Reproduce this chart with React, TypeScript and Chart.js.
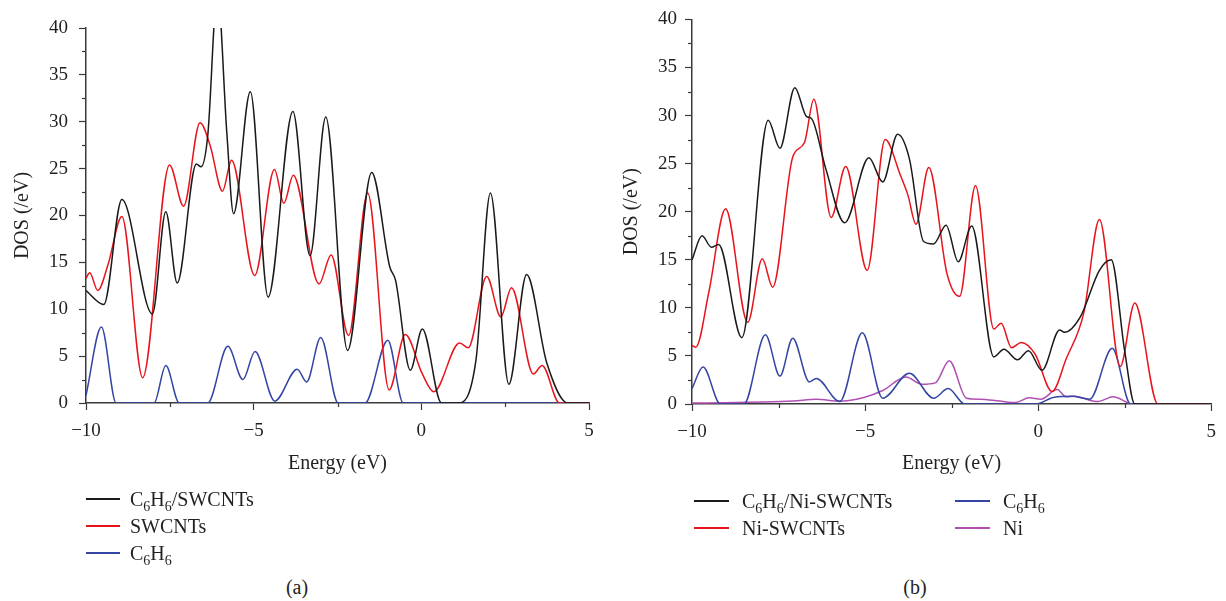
import React, { useEffect, useRef } from 'react';
import { Chart, registerables } from 'chart.js';

Chart.register(...registerables);

const FONT = '"Liberation Serif", "Times New Roman", serif';
const TEXT = '#231f20';
const AXIS = '#3a3a3a';
const BLACK = '#1a1a1a';
const RED = '#e8141c';
const BLUE = '#3446a3';
const MAGENTA = '#b24fb2';

// ---------- (a) C6H6 on SWCNTs ----------
const aTotE = [-10, -9.47, -8.93, -8.02, -7.62, -7.28, -6.71, -6.57, -6.37, -6.08, -5.8, -5.6, -5.1, -4.57, -3.83, -3.32, -2.85, -2.2, -1.48, -0.94, -0.77, -0.33, 0.03, 0.6, 1.12, 1.63, 2.06, 2.61, 3.14, 3.74, 4.37, 5];
const aTotV = [12.0, 10.5, 21.7, 9.5, 20.4, 12.8, 25.5, 25.2, 28.5, 44, 28.8, 20.2, 33.2, 11.3, 31.1, 15.7, 30.5, 5.6, 24.6, 14.5, 13.1, 3.5, 7.9, 0, 0, 4.6, 22.4, 2.0, 13.7, 4.3, 0, 0];

const aSwE = [-10, -9.89, -9.65, -9.34, -8.93, -8.31, -7.51, -7.09, -6.6, -6.3, -5.93, -5.66, -4.97, -4.38, -4.1, -3.82, -3.05, -2.69, -2.17, -1.6, -0.96, -0.48, 0.03, 0.37, 1.14, 1.4, 1.95, 2.37, 2.69, 3.34, 3.6, 4.12, 5];
const aSwV = [13.3, 13.9, 12.0, 14.8, 19.9, 2.7, 25.4, 21.0, 29.9, 27.5, 22.6, 25.9, 13.6, 24.9, 21.3, 24.3, 12.7, 15.8, 7.2, 22.4, 1.4, 7.3, 3.1, 1.2, 6.4, 5.9, 13.5, 9.2, 12.3, 3.1, 4.0, 0, 0];

const aBzE = [-10, -9.54, -9.1, -7.97, -7.62, -7.22, -6.37, -5.77, -5.32, -4.96, -4.37, -3.7, -3.42, -3.0, -2.48, -1.68, -1.0, -0.54, 5];
const aBzV = [0.8, 8.1, 0, 0, 4.0, 0, 0, 6.05, 2.5, 5.5, 0.2, 3.6, 2.25, 7.0, 0, 0, 6.7, 0, 0];

// ---------- (b) C6H6 on Ni-SWCNTs ----------
const bTotE = [-10, -9.71, -9.44, -9.23, -8.56, -7.8, -7.46, -7.03, -6.69, -6.55, -6.13, -5.59, -4.89, -4.49, -4.06, -3.72, -3.31, -3.02, -2.66, -2.31, -1.92, -1.28, -0.99, -0.6, -0.28, 0.11, 0.62, 0.76, 1.21, 1.77, 2.11, 2.5, 2.79, 5];
const bTotV = [15.0, 17.5, 16.3, 16.6, 6.9, 29.5, 26.6, 32.9, 29.9, 29.7, 24.4, 18.85, 25.6, 23.1, 28.05, 25.5, 16.9, 16.65, 18.6, 14.8, 18.5, 4.9, 5.7, 4.6, 5.55, 3.5, 7.7, 7.45, 9.0, 13.9, 15.0, 5.5, 0, 0];

const bNiE = [-10, -9.89, -9.51, -9.03, -8.39, -7.97, -7.67, -7.09, -6.75, -6.48, -5.98, -5.56, -4.94, -4.42, -3.98, -3.76, -3.53, -3.16, -2.63, -2.27, -1.81, -1.28, -1.07, -0.77, -0.49, -0.09, 0.4, 0.81, 1.32, 1.77, 2.37, 2.79, 3.46, 5];
const bNiV = [6.1, 5.9, 11.7, 20.3, 8.5, 15.1, 12.15, 25.7, 27.2, 31.7, 19.4, 24.7, 13.9, 27.5, 23.8, 21.7, 18.7, 24.6, 13.5, 11.2, 22.7, 7.8, 8.4, 5.85, 6.4, 5.2, 1.3, 4.7, 9.5, 19.2, 3.9, 10.5, 0, 0];

const bBzE = [-10, -9.68, -9.18, -8.5, -7.88, -7.46, -7.09, -6.61, -6.41, -5.73, -5.08, -4.49, -3.72, -3.02, -2.6, -2.12, -0.09, 0.47, 0.98, 1.49, 2.14, 2.67, 5];
const bBzV = [1.6, 3.85, 0, 0, 7.2, 2.9, 6.85, 2.3, 2.65, 0.25, 7.4, 0.6, 3.2, 0.6, 1.6, 0, 0, 0.7, 0.8, 0.5, 5.8, 0, 0];

const bMetE = [-10, -7.09, -6.41, -5.73, -5.06, -4.49, -3.82, -3.36, -2.97, -2.57, -2.07, -1.67, -1.11, -0.65, -0.26, 0.08, 0.55, 0.81, 1.04, 1.72, 2.17, 2.73, 5];
const bMetV = [0.1, 0.3, 0.5, 0.3, 0.65, 1.4, 2.8, 2.05, 2.2, 4.5, 0.6, 0.5, 0.3, 0.15, 0.65, 0.5, 1.5, 0.75, 0.8, 0.25, 0.75, 0, 0];

const xRange = [-10, 5];
const yRange = [0, 40];
const xTitle = 'Energy (eV)';
const yTitle = 'DOS (/eV)';

const pts = (e: number[], v: number[]) => e.map((x, i) => ({ x, y: v[i] }));
const fmt = (v: number) => (v < 0 ? '\u2212' + Math.abs(v) : String(v));
const isMajor = (v: number) => Math.abs(v % 5) < 1e-6;

const minorTicks = {
  id: 'minorTicks',
  afterDraw(chart: any) {
    const ctx = chart.ctx;
    const xs = chart.scales.x;
    const ys = chart.scales.y;
    ctx.save();
    ctx.strokeStyle = AXIS;
    ctx.lineWidth = 1.2;
    xs.ticks.forEach((t: any) => {
      if (!isMajor(t.value)) {
        const px = Math.round(xs.getPixelForValue(t.value)) + 0.5;
        ctx.beginPath();
        ctx.moveTo(px, xs.top);
        ctx.lineTo(px, xs.top + 4);
        ctx.stroke();
      }
    });
    ys.ticks.forEach((t: any) => {
      if (!isMajor(t.value)) {
        const py = Math.round(ys.getPixelForValue(t.value)) + 0.5;
        ctx.beginPath();
        ctx.moveTo(ys.right, py);
        ctx.lineTo(ys.right - 4, py);
        ctx.stroke();
      }
    });
    ctx.restore();
  },
};

type Cfg = {
  yWidth: number;
  xHeight: number;
  padTop: number;
  padRight: number;
  yTitlePad: number;
  yTickPad: number;
};

function lineDs(label: string, e: number[], v: number[], color: string) {
  return {
    label,
    data: pts(e, v),
    borderColor: color,
    backgroundColor: color,
    borderWidth: 1.5,
    pointRadius: 0,
    cubicInterpolationMode: 'monotone' as const,
    fill: false,
  };
}

function makeConfig(datasets: any[], c: Cfg): any {
  return {
    type: 'line',
    data: { datasets },
    options: {
      animation: false,
      responsive: false,
      maintainAspectRatio: false,
      devicePixelRatio: 1,
      parsing: false,
      layout: { padding: { top: c.padTop, right: c.padRight, left: 0, bottom: 0 } },
      plugins: { legend: { display: false }, tooltip: { enabled: false } },
      scales: {
        x: {
          type: 'linear',
          min: xRange[0],
          max: xRange[1],
          ticks: {
            stepSize: 2.5,
            autoSkip: false,
            maxRotation: 0,
            padding: 10,
            color: TEXT,
            font: { family: FONT, size: 19 },
            callback: (v: number) => (isMajor(v) ? fmt(v) : ''),
          },
          grid: {
            display: true,
            drawOnChartArea: false,
            drawTicks: true,
            tickLength: 7,
            tickWidth: 1.2,
            tickColor: (ctx: any) => (ctx.tick && isMajor(ctx.tick.value) ? AXIS : 'rgba(0,0,0,0)'),
          },
          border: { display: true, color: AXIS, width: 1.5 },
          title: {
            display: true,
            text: xTitle,
            color: TEXT,
            font: { family: FONT, size: 20 },
            padding: { top: 0, bottom: 14 },
          },
          afterFit: (s: any) => {
            s.height = c.xHeight;
          },
        },
        y: {
          type: 'linear',
          min: yRange[0],
          max: yRange[1],
          ticks: {
            stepSize: 2.5,
            autoSkip: false,
            padding: c.yTickPad,
            color: TEXT,
            font: { family: FONT, size: 19 },
            callback: (v: number) => (isMajor(v) ? fmt(v) : ''),
          },
          grid: {
            display: true,
            drawOnChartArea: false,
            drawTicks: true,
            tickLength: 7,
            tickWidth: 1.2,
            tickColor: (ctx: any) => (ctx.tick && isMajor(ctx.tick.value) ? AXIS : 'rgba(0,0,0,0)'),
          },
          border: { display: true, color: AXIS, width: 1.5 },
          title: {
            display: true,
            text: yTitle,
            color: TEXT,
            font: { family: FONT, size: 20 },
            padding: { top: c.yTitlePad, bottom: 0 },
          },
          afterFit: (s: any) => {
            s.width = c.yWidth;
          },
        },
      },
    },
    plugins: [minorTicks],
  };
}

function ChartCanvas({ left, width, height, config }: { left: number; width: number; height: number; config: () => any }) {
  const ref = useRef<HTMLCanvasElement | null>(null);
  useEffect(() => {
    if (!ref.current) return;
    const chart = new Chart(ref.current, config());
    return () => chart.destroy();
  }, []);
  return (
    <canvas
      ref={ref}
      width={width}
      height={height}
      style={{ position: 'absolute', left, top: 0, width, height }}
    />
  );
}

const Sub = ({ children }: { children: React.ReactNode }) => (
  <span style={{ fontSize: 14, position: 'relative', top: 5 }}>{children}</span>
);

function LegendRow({ x1, x2, tx, cy, color, children }: { x1: number; x2: number; tx: number; cy: number; color: string; children: React.ReactNode }) {
  return (
    <>
      <div style={{ position: 'absolute', left: x1, top: cy - 1, width: x2 - x1, height: 0, borderTop: `2px solid ${color}` }} />
      <div style={{ position: 'absolute', left: tx, top: cy - 12, lineHeight: '24px', fontSize: 20, whiteSpace: 'nowrap' }}>{children}</div>
    </>
  );
}

const Caption = ({ cx, cy, text }: { cx: number; cy: number; text: string }) => (
  <div style={{ position: 'absolute', left: cx, top: cy - 12, transform: 'translateX(-50%)', lineHeight: '24px', fontSize: 20 }}>{text}</div>
);

export default function App() {
  const cfgA = () =>
    makeConfig(
      [
        lineDs('C6H6/SWCNTs', aTotE, aTotV, BLACK),
        lineDs('SWCNTs', aSwE, aSwV, RED),
        lineDs('C6H6', aBzE, aBzV, BLUE),
      ],
      { yWidth: 86, xHeight: 87, padTop: 28, padRight: 21, yTitlePad: 11, yTickPad: 11 }
    );
  const cfgB = () =>
    makeConfig(
      [
        lineDs('C6H6/Ni-SWCNTs', bTotE, bTotV, BLACK),
        lineDs('Ni-SWCNTs', bNiE, bNiV, RED),
        lineDs('C6H6', bBzE, bBzV, BLUE),
        lineDs('Ni', bMetE, bMetV, MAGENTA),
      ],
      { yWidth: 82, xHeight: 86, padTop: 15, padRight: 11, yTitlePad: 10, yTickPad: 8 }
    );

  return (
    <div
      style={{
        position: 'fixed',
        left: 0,
        top: 0,
        width: 1226,
        height: 601,
        background: '#fff',
        fontFamily: FONT,
        color: TEXT,
        overflow: 'hidden',
      }}
    >
      <ChartCanvas left={0} width={610} height={490} config={cfgA} />
      <ChartCanvas left={610} width={616} height={490} config={cfgB} />

      <LegendRow x1={86} x2={120} tx={130} cy={499} color={BLACK}>
        C<Sub>6</Sub>H<Sub>6</Sub>/SWCNTs
      </LegendRow>
      <LegendRow x1={86} x2={120} tx={130} cy={526} color={RED}>
        SWCNTs
      </LegendRow>
      <LegendRow x1={86} x2={120} tx={130} cy={553} color={BLUE}>
        C<Sub>6</Sub>H<Sub>6</Sub>
      </LegendRow>
      <Caption cx={297} cy={587} text="(a)" />

      <LegendRow x1={694} x2={729} tx={742} cy={501} color={BLACK}>
        C<Sub>6</Sub>H<Sub>6</Sub>/Ni-SWCNTs
      </LegendRow>
      <LegendRow x1={694} x2={729} tx={742} cy={528} color={RED}>
        Ni-SWCNTs
      </LegendRow>
      <LegendRow x1={955} x2={990} tx={1003} cy={501} color={BLUE}>
        C<Sub>6</Sub>H<Sub>6</Sub>
      </LegendRow>
      <LegendRow x1={955} x2={990} tx={1003} cy={528} color={MAGENTA}>
        Ni
      </LegendRow>
      <Caption cx={915} cy={587} text="(b)" />
    </div>
  );
}
